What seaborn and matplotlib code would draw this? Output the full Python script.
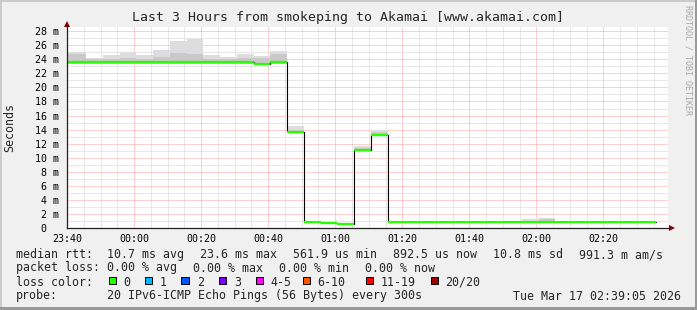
import matplotlib
matplotlib.use("Agg")
import numpy as np
import pandas as pd
import matplotlib.pyplot as plt
import matplotlib.dates as mdates
from matplotlib.ticker import MultipleLocator, FuncFormatter
from matplotlib.patches import Rectangle
from matplotlib.lines import Line2D
import seaborn as sns

# ---------------- data ----------------
window_start = "2026-03-16 23:40:00"
window_end = "2026-03-17 02:39:15"
bin_end = ["23:45:40", "23:50:40", "23:55:40", "00:00:40", "00:05:40", "00:10:40",
           "00:15:40", "00:20:40", "00:25:40", "00:30:40", "00:35:40", "00:40:40",
           "00:45:40", "00:50:40", "00:55:40", "01:00:40", "01:05:40", "01:10:40",
           "01:15:40", "01:20:40", "01:25:40", "01:30:40", "01:35:40", "01:40:40",
           "01:45:40", "01:50:40", "01:55:40", "02:00:40", "02:05:40", "02:10:40",
           "02:15:40", "02:20:40", "02:25:40", "02:30:40", "02:35:40"]
# median rtt per bin (ms)
median_ms = [23.6, 23.6, 23.6, 23.6, 23.6, 23.6, 23.6, 23.6, 23.6, 23.6, 23.6, 23.4,
             23.6, 13.65, 0.9, 0.65, 0.56, 11.05, 13.3, 0.9, 0.9, 0.9, 0.9, 0.9,
             0.9, 0.9, 0.9, 0.9, 0.9, 0.9, 0.9, 0.9, 0.9, 0.9, 0.89]
# smoke: lowest ping, middle band top, highest ping (ms)
smoke_min_ms = [23.4, 23.4, 23.4, 23.4, 23.4, 23.4, 23.4, 23.4, 23.4, 23.4, 23.4, 23.3,
                23.4, 13.5, 0.85, 0.6, 0.5, 10.95, 13.2, 0.85, 0.85, 0.85, 0.85, 0.85,
                0.85, 0.85, 0.85, 0.85, 0.85, 0.85, 0.85, 0.85, 0.85, 0.85, 0.85]
smoke_mid_ms = [24.7, 24.0, 24.0, 24.15, 24.0, 24.3, 24.9, 24.7, 24.0, 24.0, 24.25, 24.25,
                24.7, 14.0, 0.92, 0.66, 0.57, 11.35, 13.7, 0.92, 0.92, 0.92, 0.92, 0.92,
                0.92, 0.92, 0.92, 1.0, 1.35, 0.92, 0.92, 0.92, 0.92, 0.92, 0.92]
smoke_max_ms = [25.0, 24.15, 24.6, 25.0, 24.6, 25.3, 26.55, 26.9, 24.6, 24.3, 24.7, 24.5,
                25.15, 14.5, 0.95, 0.7, 0.6, 11.65, 13.9, 0.95, 0.95, 0.95, 0.95, 0.95,
                0.95, 0.95, 0.95, 1.3, 1.4, 0.95, 0.95, 0.95, 0.95, 0.95, 0.95]
loss_idx = [0] * 35

loss_labels = ["0", "1", "2", "3", "4-5", "6-10", "11-19", "20/20"]
loss_colors = ["#26ff00", "#00b8ff", "#0059ff", "#7e00ff", "#ff00ff", "#ff5500", "#ff0000", "#a10000"]

y_ticks = [0, 2, 4, 6, 8, 10, 12, 14, 16, 18, 20, 22, 24, 26, 28]

title = "Last 3 Hours from smokeping to Akamai [www.akamai.com]"
row1 = [("median rtt:", 16), ("10.7 ms avg", 107), ("23.6 ms max", 200), ("561.9 us min", 293),
        ("892.5 us now", 393), ("10.8 ms sd", 493), ("991.3 m am/s", 579)]
row2 = [("packet loss:", 16), ("0.00 % avg", 107), ("0.00 % max", 193), ("0.00 % min", 279),
        ("0.00 % now", 365)]
probe_text = "20 IPv6-ICMP Echo Pings (56 Bytes) every 300s"
date_text = "Tue Mar 17 02:39:05 2026"

# ---------------- build ----------------
W, H = 697, 310
MONO = "DejaVu Sans Mono"


def fx(px):
    return px / W


def fy(py):
    return 1 - py / H


def to_dt(t):
    d = pd.Timestamp("2026-03-17 " + t)
    if d.hour >= 12:
        d -= pd.Timedelta(days=1)
    return d


edges_dt = [pd.Timestamp(window_start)] + [to_dt(t) for t in bin_end]
edges = mdates.date2num([e.to_pydatetime() for e in edges_dt])


def ext(a):
    return list(a) + [a[-1]]


sns.set_style("white")
plt.rcParams["font.family"] = [MONO]

fig = plt.figure(figsize=(W / 100, H / 100), dpi=100, facecolor="#f0f0f0")
ax = fig.add_axes([fx(67), fy(228), fx(668) - fx(67), fy(27) - fy(228)])
ax.set_facecolor("white")

# smoke
ax.fill_between(edges, ext(smoke_min_ms), ext(smoke_max_ms), step="post",
                color="#dddddd", lw=0, zorder=2)
ax.fill_between(edges, ext(smoke_min_ms), ext(smoke_mid_ms), step="post",
                color="#c9c9c9", lw=0, zorder=2)

# step line (black risers)
df = pd.DataFrame({"t": edges, "ms": ext(median_ms)})
sns.lineplot(data=df, x="t", y="ms", drawstyle="steps-post", color="#000000",
             lw=0.8, ax=ax, zorder=3)
# median coloured by loss
ax.hlines(median_ms, edges[:-1], edges[1:], colors=[loss_colors[i] for i in loss_idx],
          lw=1.6, zorder=4)

ax.set_xlim(mdates.date2num(pd.Timestamp(window_start).to_pydatetime()),
            mdates.date2num(pd.Timestamp(window_end).to_pydatetime()))
ax.set_ylim(0, 28.6)
ax.set_xlabel("")
ax.set_ylabel("")

ax.xaxis.set_major_locator(mdates.MinuteLocator(byminute=[0, 20, 40]))
ax.xaxis.set_minor_locator(mdates.MinuteLocator(byminute=range(0, 60, 5)))
ax.xaxis.set_major_formatter(mdates.DateFormatter("%H:%M"))
ax.set_yticks(y_ticks)
ax.yaxis.set_minor_locator(MultipleLocator(1))
ax.yaxis.set_major_formatter(FuncFormatter(lambda v, p: f"{int(v)} m" if v else "0  "))

dash = (0, (1, 1))
ax.grid(which="minor", color="#d0d0d0", ls=dash, lw=0.72)
ax.grid(which="major", color="#ffa1a1", ls=dash, lw=0.72)
ax.set_axisbelow(True)

for s in ["top", "right"]:
    ax.spines[s].set_visible(False)
for s in ["left", "bottom"]:
    ax.spines[s].set_color("#202020")
    ax.spines[s].set_linewidth(0.9)
    ax.spines[s].set_zorder(5)

ax.tick_params(axis="both", which="major", length=2, width=0.7, color="#202020",
               labelsize=7.2, labelcolor="black")
ax.tick_params(axis="x", which="major", pad=2.5)
ax.tick_params(axis="y", which="major", pad=3.6)
ax.tick_params(which="minor", length=0)
for lab in ax.get_xticklabels() + ax.get_yticklabels():
    lab.set_family(MONO)

# arrows
fig.add_artist(Line2D([fx(668), fx(670)], [fy(228), fy(228)], color="#202020", lw=0.9))
fig.add_artist(Line2D([fx(671.5)], [fy(228)], marker=">", ms=4.2, color="#7f0000", mew=0))
fig.add_artist(Line2D([fx(67), fx(67)], [fy(27), fy(25)], color="#202020", lw=0.9))
fig.add_artist(Line2D([fx(67)], [fy(23.5)], marker="^", ms=4.2, color="#7f0000", mew=0))

# texts
fig.text(fx(348), fy(18), title, ha="center", va="center", fontsize=9.55, family=MONO)
fig.text(fx(10), fy(127), "Seconds", rotation=90, ha="center", va="center",
         fontsize=8.4, family=MONO)
fig.text(fx(688), fy(60), "RRDTOOL / TOBI OETIKER", rotation=270, ha="center", va="center",
         fontsize=6, family=MONO, color="#a8a8a8")

LF = 8.4
for txt, x in row1:
    fig.text(fx(x), fy(254.5), txt, ha="left", va="center", fontsize=LF, family=MONO)
for txt, x in row2:
    fig.text(fx(x), fy(268), txt, ha="left", va="center", fontsize=LF, family=MONO)
fig.text(fx(16), fy(282), "loss color:", ha="left", va="center", fontsize=LF, family=MONO)
box_x = [108.5, 145, 181.5, 218.5, 256, 302.5, 366, 430.5]
lab_x = [123, 160, 197, 234, 270.5, 317, 380.5, 445.5]
for lab, col, bx, lx in zip(loss_labels, loss_colors, box_x, lab_x):
    fig.add_artist(Rectangle((fx(bx), fy(284)), fx(7), 7 / H, facecolor=col,
                             edgecolor="black", lw=0.7))
    fig.text(fx(lx), fy(282), lab, ha="left", va="center", fontsize=LF, family=MONO)
fig.text(fx(16), fy(296), "probe:", ha="left", va="center", fontsize=LF, family=MONO)
fig.text(fx(107), fy(296), probe_text, ha="left", va="center", fontsize=LF, family=MONO)
fig.text(fx(681), fy(296), date_text, ha="right", va="center", fontsize=LF, family=MONO)

# frame shading
fig.add_artist(Rectangle((0, fy(2)), 1, 2 / H, facecolor="#cbcbcb", lw=0))
fig.add_artist(Rectangle((0, 0), fx(2), 1, facecolor="#cbcbcb", lw=0))
fig.add_artist(Rectangle((fx(695), 0), fx(2), 1, facecolor="#999999", lw=0))
fig.add_artist(Rectangle((0, 0), 1, 3 / H, facecolor="#999999", lw=0))

fig.savefig("out.png", dpi=100, facecolor=fig.get_facecolor())
